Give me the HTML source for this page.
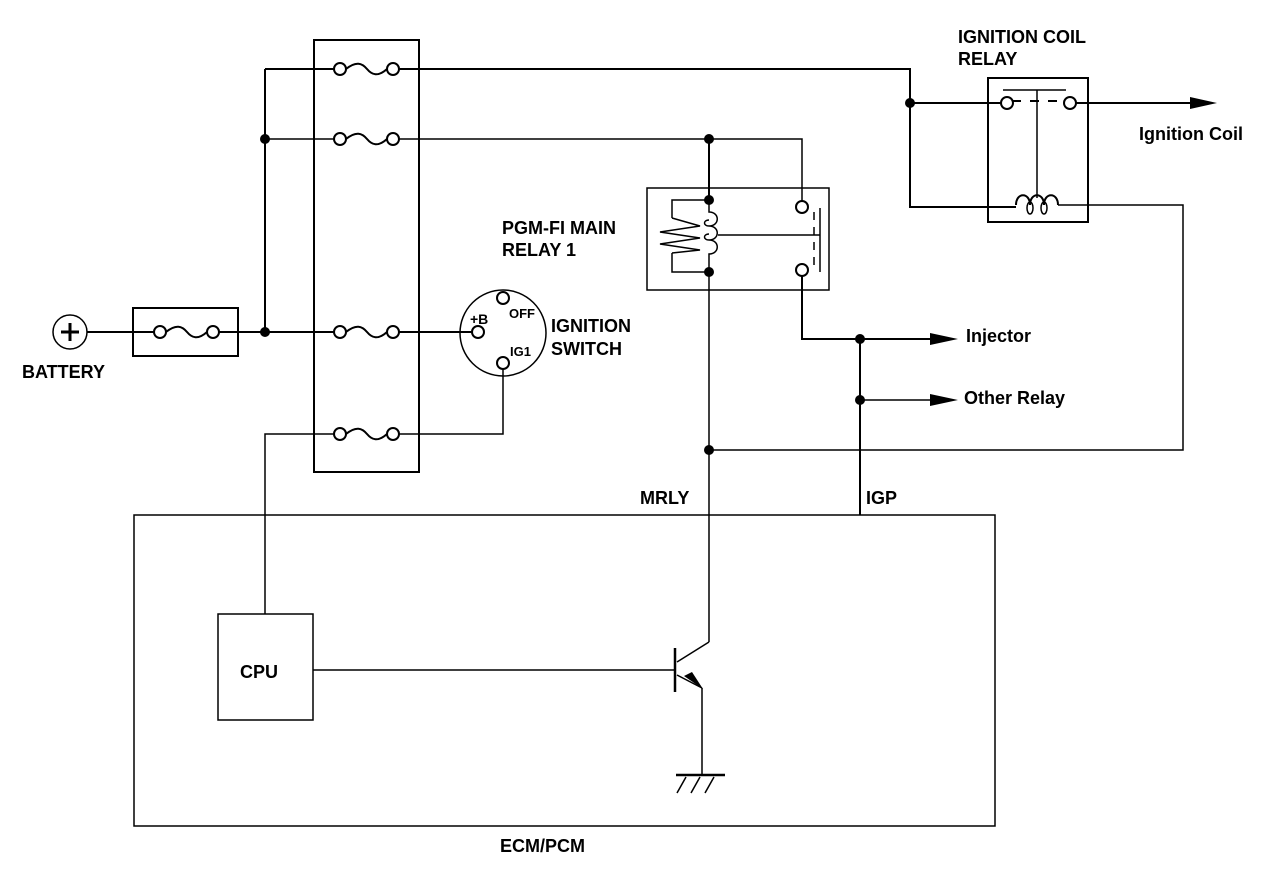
<!DOCTYPE html>
<html><head><meta charset="utf-8"><style>
html,body{margin:0;padding:0;background:#fff;}
svg{display:block;}
text{font-family:"Liberation Sans",Arial,sans-serif;font-weight:bold;font-size:18px;fill:#000;}
</style></head><body>
<svg width="1280" height="870" viewBox="0 0 1280 870" xmlns="http://www.w3.org/2000/svg">
<defs>
<g id="fuse"><circle cx="0" cy="0" r="6" fill="#fff" stroke="#000" stroke-width="2"/><circle cx="53" cy="0" r="6" fill="#fff" stroke="#000" stroke-width="2"/><path d="M6,0 C16,-8 22,-6 27,0 C32,6 38,8 47,0" fill="none" stroke="#000" stroke-width="2"/></g>
</defs>
<g fill="none" stroke="#000" stroke-width="1.5">
<rect x="314" y="40" width="105" height="432" stroke-width="2"/>
<line x1="265" y1="69" x2="265" y2="332" stroke-width="2"/>
<line x1="265" y1="69" x2="334" y2="69" stroke-width="2"/>
<line x1="265" y1="139" x2="334" y2="139"/>
<line x1="87" y1="332" x2="154" y2="332" stroke-width="2"/>
<line x1="219" y1="332" x2="334" y2="332" stroke-width="2"/>
<polyline points="399,69 910,69 910,207 1016,207" stroke-width="2"/>
<line x1="910" y1="103" x2="1001" y2="103" stroke-width="2"/>
<polyline points="399,139 802,139 802,201"/>
<line x1="709" y1="139" x2="709" y2="200" stroke-width="2"/>
<line x1="399" y1="332" x2="472" y2="332" stroke-width="2"/>
<circle cx="503" cy="333" r="43"/>
<polyline points="503,369 503,434 399,434"/>
<polyline points="334,434 265,434 265,614"/>
<rect x="133" y="308" width="105" height="48" stroke-width="2"/>
<circle cx="70" cy="332" r="17"/>
<rect x="647" y="188" width="182" height="102"/>
<polyline points="709,200 672,200 672,218"/>
<polyline points="672,253 672,272 709,272"/>
<path d="M672,218 L700,226 L660,232 L700,238 L660,244 L700,250 L672,253"/>
<path d="M709,200 L709,212 C720,212 720,226 709,226 C703,226 703,220 709,220 M709,226 C720,226 720,240 709,240 C703,240 703,234 709,234 M709,240 C720,240 720,254 709,254 L709,272" />
<line x1="718" y1="235" x2="820" y2="235"/>
<line x1="820" y1="208" x2="820" y2="272"/>
<line x1="814" y1="212" x2="814" y2="270" stroke-dasharray="8,7"/>
<polyline points="802,276 802,339 935,339" stroke-width="2"/>
<line x1="860" y1="339" x2="860" y2="515" stroke-width="2"/>
<line x1="860" y1="400" x2="935" y2="400"/>
<line x1="709" y1="272" x2="709" y2="642"/>
<polyline points="709,450 1183,450 1183,205 1058,205"/>
<rect x="988" y="78" width="100" height="144" stroke-width="2"/>
<line x1="1003" y1="90" x2="1066" y2="90"/>
<line x1="1037" y1="90" x2="1037" y2="198"/>
<line x1="1012" y1="101" x2="1064" y2="101" stroke-width="2" stroke-dasharray="9,9"/>
<line x1="1076" y1="103" x2="1195" y2="103" stroke-width="2"/>
<path d="M1016,205 C1016,192 1030,192 1030,205 M1030,205 C1030,192 1044,192 1044,205 M1044,205 C1044,192 1058,192 1058,205" stroke-width="2"/>
<ellipse cx="1030" cy="208" rx="3" ry="6"/><ellipse cx="1044" cy="208" rx="3" ry="6"/>
<rect x="134" y="515" width="861" height="311"/>
<rect x="218" y="614" width="95" height="106"/>
<line x1="313" y1="670" x2="675" y2="670"/>
<line x1="675" y1="648" x2="675" y2="692" stroke-width="2.5"/>
<line x1="677" y1="662" x2="709" y2="642"/>
<line x1="677" y1="675" x2="702" y2="688"/>
<line x1="702" y1="688" x2="702" y2="775"/>
<line x1="676" y1="775" x2="725" y2="775" stroke-width="2.5"/>
<line x1="686" y1="777" x2="677" y2="793"/><line x1="700" y1="777" x2="691" y2="793"/><line x1="714" y1="777" x2="705" y2="793"/>
</g>
<polygon points="703,689 684,676 692,672" fill="#000"/>
<use href="#fuse" x="340" y="69"/>
<use href="#fuse" x="340" y="139"/>
<use href="#fuse" x="340" y="332"/>
<use href="#fuse" x="340" y="434"/>
<use href="#fuse" x="160" y="332"/>
<g fill="#fff" stroke="#000" stroke-width="2">
<circle cx="478" cy="332" r="6"/><circle cx="503" cy="298" r="6"/><circle cx="503" cy="363" r="6"/>
<circle cx="802" cy="207" r="6"/><circle cx="802" cy="270" r="6"/>
<circle cx="1007" cy="103" r="6"/><circle cx="1070" cy="103" r="6"/>
</g>
<g fill="#000">
<circle cx="265" cy="139" r="5"/><circle cx="265" cy="332" r="5"/>
<circle cx="910" cy="103" r="5"/><circle cx="709" cy="139" r="5"/>
<circle cx="709" cy="200" r="5"/><circle cx="709" cy="272" r="5"/>
<circle cx="860" cy="339" r="5"/><circle cx="860" cy="400" r="5"/>
<circle cx="709" cy="450" r="5"/>
<polygon points="930,333 958,339 930,345"/>
<polygon points="930,394 958,400 930,406"/>
<polygon points="1190,97 1217,103 1190,109"/>
</g>
<g stroke="#000" stroke-width="3"><line x1="61" y1="332" x2="79" y2="332"/><line x1="70" y1="323" x2="70" y2="341"/></g>
<text x="958" y="43">IGNITION COIL</text>
<text x="958" y="65">RELAY</text>
<text x="1139" y="140">Ignition Coil</text>
<text x="502" y="234">PGM-FI MAIN</text>
<text x="502" y="256">RELAY 1</text>
<text x="551" y="332">IGNITION</text>
<text x="551" y="355">SWITCH</text>
<text x="22" y="378">BATTERY</text>
<text x="470" y="324" style="font-size:14px">+B</text>
<text x="509" y="318" style="font-size:13px">OFF</text>
<text x="510" y="356" style="font-size:13px">IG1</text>
<text x="966" y="342">Injector</text>
<text x="964" y="404">Other Relay</text>
<text x="640" y="504">MRLY</text>
<text x="866" y="504">IGP</text>
<text x="240" y="678">CPU</text>
<text x="500" y="852">ECM/PCM</text>
</svg>
</body></html>
